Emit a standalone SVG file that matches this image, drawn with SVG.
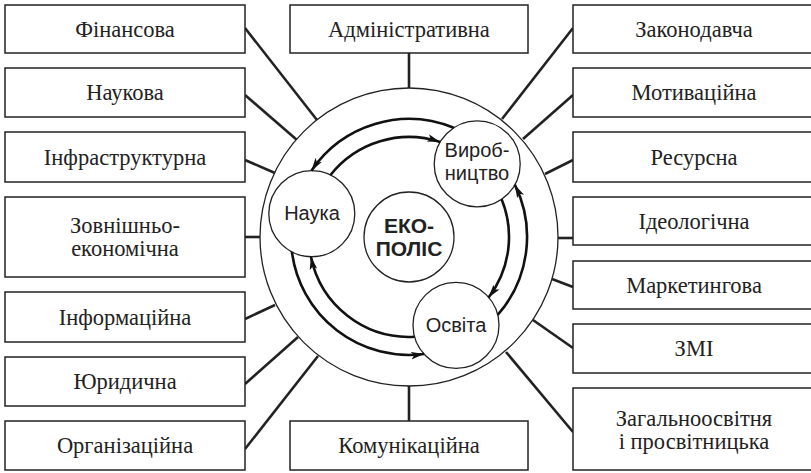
<svg xmlns="http://www.w3.org/2000/svg" width="811" height="473" viewBox="0 0 811 473">
<defs>
<style>
.box{fill:#fff;stroke:#222;stroke-width:1.5}
.bt{font-family:'Liberation Serif','Times New Roman',serif;font-size:22.5px;fill:#222;text-anchor:middle}
.ct{font-family:'Liberation Sans',Arial,sans-serif;font-size:20px;fill:#222;text-anchor:middle}
.ctb{font-family:'Liberation Sans',Arial,sans-serif;font-size:21px;font-weight:bold;fill:#222;text-anchor:middle}
.conn line{stroke:#222;stroke-width:2.6}
.circ{fill:#fff;stroke:#222;stroke-width:1.3}
.arc{fill:none;stroke:#111;stroke-width:2.6;marker-end:url(#ah)}
</style>
<marker id="ah" markerUnits="userSpaceOnUse" markerWidth="14" markerHeight="10" refX="13" refY="5" orient="auto">
<path d="M0,1.2 L13,5 L0,8.8 L3,5 Z" fill="#111"/>
</marker>
</defs>
<rect width="811" height="473" fill="#fff"/>

<g id="connectors" class="conn">
<line x1="245" y1="28" x2="317" y2="120"/>
<line x1="245" y1="95" x2="297" y2="140"/>
<line x1="245" y1="160" x2="275" y2="173"/>
<line x1="245" y1="237" x2="261" y2="237"/>
<line x1="245" y1="319" x2="275" y2="305"/>
<line x1="245" y1="384" x2="298" y2="337"/>
<line x1="245" y1="449" x2="318" y2="356"/>
<line x1="409" y1="53" x2="409" y2="89"/>
<line x1="409" y1="385" x2="409" y2="421"/>
<line x1="573" y1="28" x2="502" y2="119"/>
<line x1="573" y1="95" x2="523" y2="139"/>
<line x1="573" y1="160" x2="545" y2="174"/>
<line x1="557" y1="238" x2="573" y2="238"/>
<line x1="552" y1="279" x2="573" y2="287"/>
<line x1="533" y1="320" x2="573" y2="348"/>
<line x1="506" y1="352" x2="573" y2="432"/>
</g>

<g id="n-finansova"><rect class="box" x="5" y="5" width="240" height="48"/><text class="bt" x="125" y="37">Фінансова</text></g>
<g id="n-naukova"><rect class="box" x="5" y="68" width="240" height="49"/><text class="bt" x="125" y="100">Наукова</text></g>
<g id="n-infrastruktura"><rect class="box" x="5" y="132" width="240" height="50"/><text class="bt" x="125" y="165">Інфраструктурна</text></g>
<g id="n-zovnishnio"><rect class="box" x="5" y="197" width="240" height="80"/><text class="bt" x="125" y="233">Зовнішньо-</text><text class="bt" x="125" y="256">економічна</text></g>
<g id="n-informatsiina"><rect class="box" x="5" y="292" width="240" height="50"/><text class="bt" x="125" y="325">Інформаційна</text></g>
<g id="n-yurydychna"><rect class="box" x="5" y="357" width="240" height="49"/><text class="bt" x="125" y="389">Юридична</text></g>
<g id="n-orhanizatsiina"><rect class="box" x="5" y="421" width="240" height="49"/><text class="bt" x="125" y="453">Організаційна</text></g>

<g id="n-administratyvna"><rect class="box" x="290" y="5" width="238" height="48"/><text class="bt" x="409" y="37">Адміністративна</text></g>
<g id="n-komunikatsiina"><rect class="box" x="290" y="421" width="238" height="49"/><text class="bt" x="409" y="453">Комунікаційна</text></g>

<g id="n-zakonodavcha"><rect class="box" x="573" y="5" width="242" height="48"/><text class="bt" x="694" y="37">Законодавча</text></g>
<g id="n-motyvatsiina"><rect class="box" x="573" y="68" width="242" height="49"/><text class="bt" x="694" y="100">Мотиваційна</text></g>
<g id="n-resursna"><rect class="box" x="573" y="132" width="242" height="50"/><text class="bt" x="694" y="165">Ресурсна</text></g>
<g id="n-ideolohichna"><rect class="box" x="573" y="197" width="242" height="48"/><text class="bt" x="694" y="229">Ідеологічна</text></g>
<g id="n-marketynhova"><rect class="box" x="573" y="261" width="242" height="48"/><text class="bt" x="694" y="293">Маркетингова</text></g>
<g id="n-zmi"><rect class="box" x="573" y="324" width="242" height="49"/><text class="bt" x="694" y="356">ЗМІ</text></g>
<g id="n-zahalnoosvitnia"><rect class="box" x="573" y="388" width="242" height="82"/><text class="bt" x="694" y="426">Загальноосвітня</text><text class="bt" x="694" y="449">і просвітницька</text></g>

<g id="n-ekopolis-ring"><circle class="circ" cx="409" cy="237" r="149"/></g>

<g id="n-ekopolis"><circle class="circ" cx="409" cy="237" r="45"/><text class="ctb" x="409" y="233">ЕКО-</text><text class="ctb" x="409" y="256">ПОЛІС</text></g>
<g id="n-nauka"><circle class="circ" cx="311.8" cy="213.7" r="43"/><text class="ct" x="312" y="220">Наука</text></g>
<g id="n-vyrobnytstvo"><circle class="circ" cx="477.2" cy="163.9" r="43"/><text class="ct" x="477" y="157">Вироб-</text><text class="ct" x="477" y="180">ництво</text></g>
<g id="n-osvita"><circle class="circ" cx="456" cy="325.3" r="43"/><text class="ct" x="456" y="332">Освіта</text></g>

<g id="arrows">
<path class="arc" d="M453.8,127.8 A118,118 0 0 0 311.4,170.7"/>
<path class="arc" d="M497.7,314.9 A118,118 0 0 0 514.8,184.7"/>
<path class="arc" d="M291.9,251.8 A118,118 0 0 0 424.0,354.0"/>
<path class="arc" d="M330.5,175.0 A100,100 0 0 1 440.2,142.0"/>
<path class="arc" d="M501.6,199.2 A100,100 0 0 1 488.6,297.5"/>
<path class="arc" d="M414.6,336.8 A100,100 0 0 1 310.9,256.6"/>
</g>
</svg>
